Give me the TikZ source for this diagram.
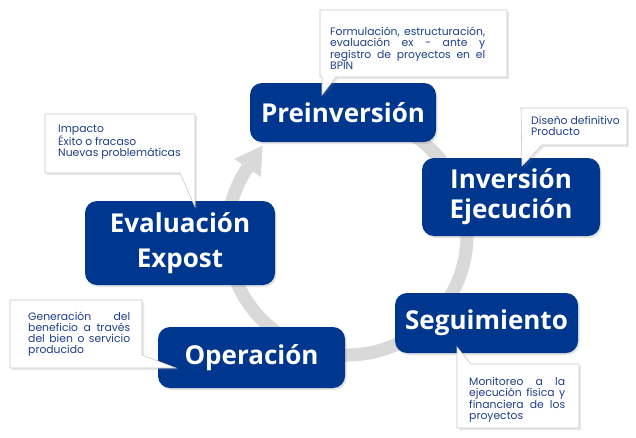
\documentclass[tikz,border=0pt]{standalone}
\usepackage{fontspec}
\setmainfont{Poppins}
\newfontfamily\titlefont{Open Sans}
\usetikzlibrary{shadows,calc}
\definecolor{boxblue}{HTML}{00378E}
\definecolor{txtblue}{HTML}{1F3E8C}
\definecolor{ringgray}{HTML}{D9D9D9}
\definecolor{callborder}{HTML}{C8C8C8}
\newcommand\jline[1]{\makebox[\linewidth][s]{#1}}
\newcommand\ctext[2]{\parbox[t]{#1}{\fontsize{10.8}{11}\selectfont #2}}
\begin{document}
\begin{tikzpicture}[x=1pt,y=-1pt,
  stage/.style={fill=boxblue, rounded corners=12pt, text=white, align=center,
    font=\titlefont\bfseries\fontsize{26}{30}\selectfont,
    drop shadow={opacity=0.22, shadow xshift=1.5pt, shadow yshift=-2pt}},
  callout/.style={fill=white, draw=callborder, line width=0.6pt,
    drop shadow={opacity=0.18, shadow xshift=2pt, shadow yshift=-2pt}},
  calltext/.style={text=txtblue, inner sep=0pt, anchor=base west},
  ring/.style={draw=ringgray, line width=13pt}
]
\fill[white] (0,0) rectangle (636,437);
\useasboundingbox (0,0) rectangle (636,437);

% cycle ring with arrow
\coordinate (ringC) at (347,235);
\draw[ring] ($(ringC)+(-75:120)$) arc[start angle=-75, end angle=214, radius=120];
\fill[ringgray] ($(ringC)+(214:104)$) -- ($(ringC)+(214:136)$)
   -- ($(ringC)+(214:120)+(304:27)$) -- cycle;

% stages
\node[stage, minimum width=186pt, minimum height=59pt] (pre) at (343,112.5) {Preinversión};
\node[stage, minimum width=178pt, minimum height=78pt] (inv) at (511,197) {Inversión\\Ejecución};
\node[stage, minimum width=190pt, minimum height=84pt, font=\titlefont\bfseries\fontsize{26}{35}\selectfont] (eva) at (180,243) {Evaluación\\Expost};
\node[stage, minimum width=183pt, minimum height=60pt] (seg) at (486.5,323) {Seguimiento};
\node[stage, minimum width=187pt, minimum height=61pt] (ope) at (251.5,357.5) {Operación};

% callouts
\path[callout] (320,10) -- (507,10) -- (507,77) -- (336,77) -- (322,95) -- (322,77) -- (320,77) -- cycle;
\node[calltext] (tpre) at (330,35) {\ctext{155pt}{\jline{Formulación, estructuración,}\par\jline{evaluación ex - ante y}\par\jline{registro de proyectos en el}\par BPIN}};

\path[callout] (521,108) -- (627,108) -- (627,145) -- (542,145) -- (522,166) -- cycle;
\node[calltext] (tinv) at (531,124) {\ctext{92pt}{Diseño definitivo\par Producto}};

\path[callout] (45,114) -- (195,114) -- (195,207) -- (180,173) -- (45,173) -- cycle;
\node[calltext] (teva) at (58,132) {\ctext{132pt}{Impacto\par Éxito o fracaso\par Nuevas problemáticas}};

\path[callout] (10,300) -- (142,300) -- (142,355) -- (176,368) -- (10,368) -- cycle;
\node[calltext] (tope) at (28,320) {\ctext{102pt}{\jline{Generación del}\par\jline{beneficio a través}\par\jline{del bien o servicio}\par producido}};

\path[callout] (457,347) -- (471,364) -- (579,364) -- (579,428) -- (457,428) -- cycle;
\node[calltext] (tseg) at (469,385) {\ctext{96pt}{\jline{Monitoreo a la}\par\jline{ejecución física y}\par\jline{financiera de los}\par proyectos}};
\end{tikzpicture}
\end{document}
